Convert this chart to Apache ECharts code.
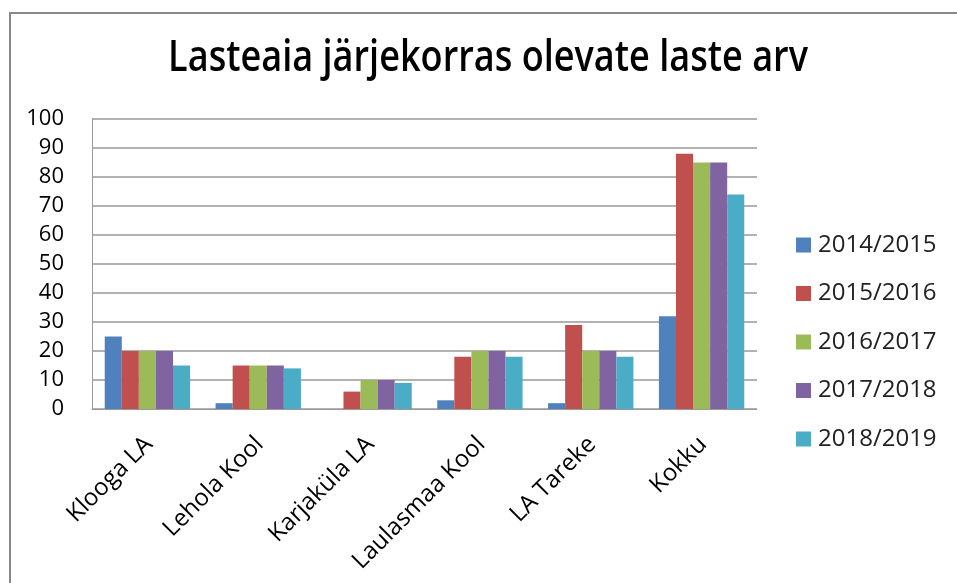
<!DOCTYPE html>
<html>
<head>
<meta charset="utf-8">
<script src="https://cdn.jsdelivr.net/npm/echarts@6/dist/echarts.min.js"></script>
<style>
  html, body { margin: 0; padding: 0; background: #fff; }
  #chart { width: 957px; height: 583px; }
</style>
</head>
<body>
<div id="chart"></div>
<script>
// kategooriad ja andmed
const categories = ['Klooga LA', 'Lehola Kool', 'Karjaküla LA', 'Laulasmaa Kool', 'LA Tareke', 'Kokku'];
const seriesNames = ['2014/2015', '2015/2016', '2016/2017', '2017/2018', '2018/2019'];
const y2014 = [25, 2, 0, 3, 2, 32];
const y2015 = [20, 15, 6, 18, 29, 88];
const y2016 = [20, 15, 10, 20, 20, 85];
const y2017 = [20, 15, 10, 20, 20, 85];
const y2018 = [15, 14, 9, 18, 18, 74];
const colors = ['#4F81BD', '#C0504D', '#9BBB59', '#8064A2', '#4BACC6'];

const values = [y2014, y2015, y2016, y2017, y2018];
const font = "'Open Sans', 'Noto Sans', sans-serif";

let chart = echarts.init(document.getElementById('chart'));
chart.setOption({
  animation: false,
  color: colors,
  textStyle: { fontFamily: font },
  graphic: [{
    type: 'rect',
    shape: { x: 10, y: 13, width: 960, height: 600 },
    style: { fill: 'none', stroke: '#888', lineWidth: 2 }
  }, {
    // pealkiri, kitsendatud nagu originaalis
    type: 'text',
    x: 488,
    y: 58,
    scaleX: 0.82,
    style: {
      text: 'Lasteaia järjekorras olevate laste arv',
      fontFamily: font,
      fontSize: 44,
      fontWeight: 600,
      fill: '#000',
      align: 'center',
      verticalAlign: 'middle'
    }
  }],
  legend: {
    orient: 'vertical',
    left: 796,
    top: 233,
    padding: 0,
    itemWidth: 15,
    itemHeight: 15,
    itemGap: 24.5,
    icon: 'rect',
    data: seriesNames,
    textStyle: { fontFamily: font, fontSize: 24, lineHeight: 24, color: '#222', padding: [0, 0, 0, 2] }
  },
  grid: { left: 92, right: 200, top: 119, bottom: 174, containLabel: false },
  xAxis: {
    type: 'category',
    data: categories,
    axisLine: { lineStyle: { color: '#999' } },
    axisTick: { show: false },
    axisLabel: {
      rotate: 45,
      interval: 0,
      margin: 16,
      verticalAlign: 'top',
      padding: [0, 10, 0, 0],
      fontSize: 24,
      color: '#000',
      fontFamily: font
    }
  },
  yAxis: {
    type: 'value',
    min: 0,
    max: 100,
    interval: 10,
    axisLine: { show: true, lineStyle: { color: '#999' } },
    axisTick: { show: false },
    axisLabel: { fontSize: 22, color: '#000', margin: 28, fontFamily: font },
    splitLine: { lineStyle: { color: '#999', width: 1.5 } }
  },
  series: seriesNames.map((name, i) => ({
    name: name,
    type: 'bar',
    data: values[i],
    barGap: '0%',
    barCategoryGap: '23%'
  }))
});
</script>
</body>
</html>
